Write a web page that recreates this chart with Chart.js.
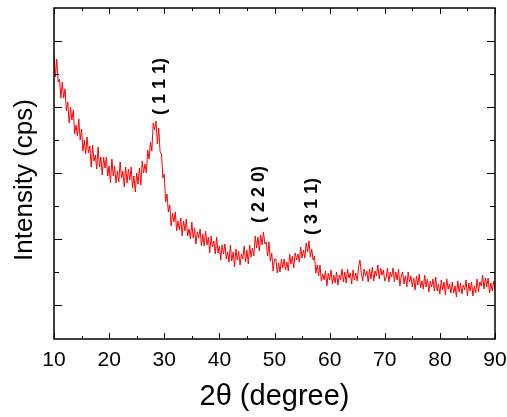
<!DOCTYPE html>
<html>
<head>
<meta charset="utf-8">
<script src="https://cdn.jsdelivr.net/npm/chart.js@4/dist/chart.umd.min.js"></script>
<style>
  body { margin: 0; background: #fff; }
  #wrap { width: 507px; height: 417px; position: relative; }
</style>
</head>
<body>
<div id="wrap"><canvas id="xrd"></canvas></div>
<script>
// scan settings (2theta, degree)
const thetaStart = 10;
const thetaStep = 0.25;

// intensity, one value per step (arbitrary cps units)
const intensity = [
  // 10.00 - 30.00
  285, 262, 280, 257, 260, 241, 257, 241, 250, 228,
  237, 216, 232, 219, 229, 205, 214, 203, 220, 199,
  210, 188, 199, 185, 202, 186, 193, 172, 194, 178,
  184, 170, 192, 172, 182, 164, 182, 171, 182, 163,
  173, 156, 180, 163, 173, 156, 168, 157, 177, 161,
  168, 152, 172, 156, 170, 159, 172, 151, 163, 147,
  166, 155, 171, 154, 178, 166, 175, 166, 189, 180,
  197, 188, 216, 209, 218, 195, 211, 187, 185, 161,
  165,
  // 30.25 - 50.00
  137, 145, 127, 134, 113, 126, 117, 127, 108, 118,
  109, 121, 103, 118, 108, 120, 103, 110, 100, 117,
  101, 111, 95, 107, 101, 110, 93, 105, 93, 108,
  94, 102, 86, 103, 92, 98, 85, 102, 86, 93,
  79, 94, 85, 95, 80, 87, 77, 94, 78, 87,
  72, 90, 79, 88, 74, 85, 80, 93, 77, 89,
  75, 94, 82, 91, 83, 103, 91, 102, 88, 104,
  94, 107, 95, 97, 83, 97, 78, 86, 68, 80,
  // 50.25 - 70.00
  80, 66, 76, 67, 80, 71, 80, 69, 77, 68,
  85, 75, 83, 71, 86, 79, 85, 77, 92, 81,
  89, 81, 96, 87, 98, 82, 90, 79, 83, 66,
  74, 63, 74, 58, 65, 59, 68, 53, 66, 59,
  69, 55, 64, 56, 67, 54, 64, 59, 70, 57,
  67, 56, 70, 61, 66, 55, 69, 59, 66, 58,
  72, 79, 66, 58, 70, 63, 68, 57, 70, 60,
  72, 58, 68, 63, 74, 60, 71, 64, 69, 58,
  // 70.25 - 90.00
  61, 71, 57, 67, 62, 71, 57, 67, 59, 70,
  53, 63, 67, 55, 63, 52, 67, 57, 63, 52,
  61, 49, 63, 54, 65, 51, 58, 50, 64, 52,
  60, 47, 58, 52, 60, 48, 62, 48, 55, 45,
  59, 49, 57, 44, 60, 50, 55, 46, 57, 46,
  53, 42, 58, 47, 56, 45, 54, 49, 59, 43,
  56, 48, 57, 43, 53, 46, 60, 47, 57, 53,
  64, 50, 61, 52, 61, 46, 56, 48, 58, 49
];

// axis ticks
const xMajor = [10, 20, 30, 40, 50, 60, 70, 80, 90];
const xMinor = [15, 25, 35, 45, 55, 65, 75, 85];
const yMajor = [34, 100, 166, 232, 298];
const yMinor = [67, 133, 199, 265];

// peak labels (hkl) with where the text starts
const peakNames = ['( 1 1 1)', '( 2 2 0)', '( 3 1 1)'];
const peakTheta = [29.3, 47.2, 56.8];
const peakBase = [224, 116, 104];

const points = intensity.map((v, i) => ({ x: thetaStart + i * thetaStep, y: v }));

const fontName = "'Liberation Sans', Arial, sans-serif";

// frame with inward ticks on all four sides + hkl labels
const framePlugin = {
  id: 'frame',
  afterDatasetsDraw(chart) {
    const ctx = chart.ctx;
    const a = chart.chartArea;
    const x = chart.scales.x;
    const y = chart.scales.y;
    ctx.save();
    ctx.strokeStyle = '#000';
    ctx.lineWidth = 1;
    ctx.beginPath();
    xMajor.forEach(v => {
      const px = Math.round(x.getPixelForValue(v)) + 0.5;
      ctx.moveTo(px, a.bottom); ctx.lineTo(px, a.bottom - 6);
      ctx.moveTo(px, a.top); ctx.lineTo(px, a.top + 6);
    });
    xMinor.forEach(v => {
      const px = Math.round(x.getPixelForValue(v)) + 0.5;
      ctx.moveTo(px, a.bottom); ctx.lineTo(px, a.bottom - 3);
      ctx.moveTo(px, a.top); ctx.lineTo(px, a.top + 3);
    });
    yMajor.forEach(v => {
      const py = Math.round(y.getPixelForValue(v)) + 0.5;
      ctx.moveTo(a.left, py); ctx.lineTo(a.left + 8, py);
      ctx.moveTo(a.right, py); ctx.lineTo(a.right - 8, py);
    });
    yMinor.forEach(v => {
      const py = Math.round(y.getPixelForValue(v)) + 0.5;
      ctx.moveTo(a.left, py); ctx.lineTo(a.left + 5, py);
      ctx.moveTo(a.right, py); ctx.lineTo(a.right - 5, py);
    });
    ctx.stroke();
    ctx.lineWidth = 1.5;
    ctx.strokeRect(a.left, a.top, a.right - a.left, a.bottom - a.top);

    ctx.fillStyle = '#000';
    ctx.font = 'bold 18px ' + fontName;
    ctx.textAlign = 'left';
    ctx.textBaseline = 'middle';
    peakNames.forEach((name, i) => {
      ctx.save();
      ctx.translate(x.getPixelForValue(peakTheta[i]), y.getPixelForValue(peakBase[i]));
      ctx.rotate(-Math.PI / 2);
      ctx.fillText(name, 0, 0);
      ctx.restore();
    });
    ctx.restore();
  }
};

const chart = new Chart(document.getElementById('xrd'), {
  type: 'line',
  data: {
    datasets: [{
      data: points,
      borderColor: '#ff0000',
      borderWidth: 1,
      pointRadius: 0,
      tension: 0,
      fill: false
    }]
  },
  options: {
    responsive: true,
    maintainAspectRatio: false,
    animation: false,
    events: [],
    layout: { padding: { left: 0, right: 0, top: 8, bottom: 0 } },
    plugins: {
      legend: { display: false },
      tooltip: { enabled: false }
    },
    scales: {
      x: {
        type: 'linear',
        min: 10,
        max: 90,
        grid: { display: false, drawTicks: false },
        border: { display: false },
        ticks: {
          stepSize: 10,
          padding: 9,
          color: '#000',
          font: { family: fontName, size: 21 }
        },
        title: {
          display: true,
          text: '2θ (degree)',
          color: '#000',
          font: { family: fontName, size: 29 },
          padding: { top: 3, bottom: 3 }
        },
        afterFit(scale) {
          scale.height = 78;
          scale.paddingLeft = 0;
          scale.paddingRight = 12;
        }
      },
      y: {
        min: 0,
        max: 331,
        grid: { display: false, drawTicks: false },
        border: { display: false },
        ticks: { display: false },
        title: {
          display: true,
          text: 'Intensity (cps)\u2002',
          color: '#000',
          font: { family: fontName, size: 26 },
          padding: { top: 9, bottom: 9 }
        },
        afterFit(scale) { scale.width = 54; }
      }
    }
  },
  plugins: [framePlugin]
});
</script>
</body>
</html>
